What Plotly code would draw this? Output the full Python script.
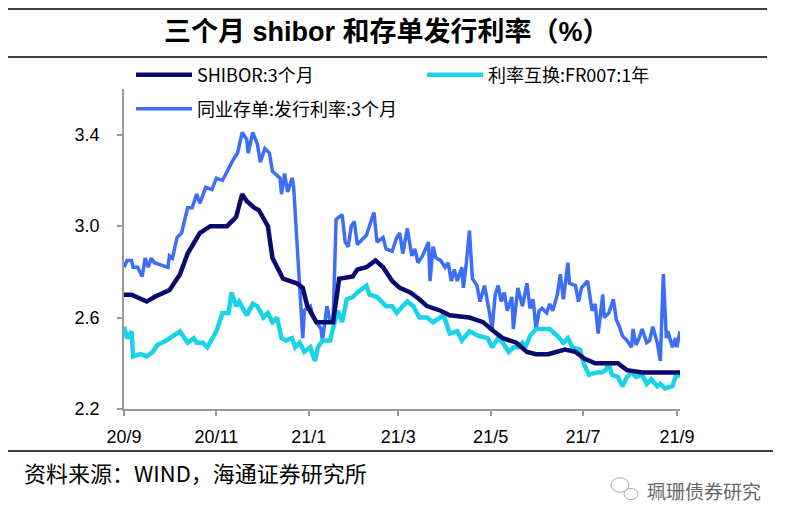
import plotly.graph_objects as go

# 3M SHIBOR
shibor_dates = ["2020-09-01", "2020-09-06", "2020-09-16", "2020-09-21", "2020-10-01", "2020-10-08",
                "2020-10-13", "2020-10-21", "2020-10-28", "2020-11-08", "2020-11-14", "2020-11-18",
                "2020-11-21", "2020-11-26", "2020-11-29", "2020-12-05", "2020-12-08", "2020-12-15",
                "2020-12-24", "2020-12-28", "2020-12-31", "2021-01-06", "2021-01-10", "2021-01-17",
                "2021-01-20", "2021-01-21", "2021-01-30", "2021-02-02", "2021-02-08", "2021-02-14",
                "2021-02-19", "2021-02-25", "2021-03-02", "2021-03-09", "2021-03-15", "2021-03-20",
                "2021-03-29", "2021-04-04", "2021-04-17", "2021-04-26", "2021-05-03", "2021-05-09",
                "2021-05-18", "2021-05-25", "2021-05-31", "2021-06-08", "2021-06-19", "2021-06-26",
                "2021-07-02", "2021-07-09", "2021-07-24", "2021-07-30", "2021-08-09", "2021-08-22",
                "2021-09-03"]
shibor = [2.70, 2.70, 2.67, 2.69, 2.72, 2.79, 2.88, 2.97, 3.00, 3.00, 3.04, 3.14,
          3.11, 3.08, 3.07, 3.00, 2.86, 2.77, 2.75, 2.73, 2.65, 2.58, 2.58, 2.58,
          2.72, 2.77, 2.78, 2.81, 2.82, 2.85, 2.82, 2.76, 2.73, 2.71, 2.68, 2.65,
          2.63, 2.61, 2.60, 2.58, 2.54, 2.51, 2.49, 2.45, 2.44, 2.44, 2.46, 2.45,
          2.42, 2.40, 2.40, 2.37, 2.36, 2.36, 2.36]

# FR007 1Y swap
fr_dates = ["2020-09-01", "2020-09-03", "2020-09-06", "2020-09-07", "2020-09-12", "2020-09-16",
            "2020-09-20", "2020-09-23", "2020-09-29", "2020-10-06", "2020-10-08", "2020-10-13",
            "2020-10-17", "2020-10-19", "2020-10-23", "2020-10-26", "2020-11-01", "2020-11-05",
            "2020-11-09", "2020-11-11", "2020-11-14", "2020-11-16", "2020-11-21", "2020-11-25",
            "2020-11-28", "2020-12-02", "2020-12-05", "2020-12-08", "2020-12-11", "2020-12-14",
            "2020-12-17", "2020-12-21", "2020-12-23", "2020-12-26", "2020-12-29", "2021-01-02",
            "2021-01-05", "2021-01-07", "2021-01-10", "2021-01-15", "2021-01-17", "2021-01-20",
            "2021-01-23", "2021-01-26", "2021-01-30", "2021-02-02", "2021-02-08", "2021-02-10",
            "2021-02-15", "2021-02-21", "2021-02-25", "2021-02-28", "2021-03-04", "2021-03-07",
            "2021-03-11", "2021-03-15", "2021-03-20", "2021-03-24", "2021-03-31", "2021-04-04",
            "2021-04-09", "2021-04-12", "2021-04-17", "2021-04-23", "2021-04-29", "2021-05-02",
            "2021-05-06", "2021-05-09", "2021-05-13", "2021-05-16", "2021-05-19", "2021-05-22",
            "2021-05-24", "2021-05-27", "2021-05-31", "2021-06-02", "2021-06-09", "2021-06-14",
            "2021-06-18", "2021-06-21", "2021-06-24", "2021-06-29", "2021-07-02", "2021-07-05",
            "2021-07-10", "2021-07-13", "2021-07-16", "2021-07-18", "2021-07-20", "2021-07-24",
            "2021-07-27", "2021-07-30", "2021-08-02", "2021-08-05", "2021-08-09", "2021-08-12",
            "2021-08-15", "2021-08-19", "2021-08-21", "2021-08-24", "2021-08-29", "2021-08-31",
            "2021-09-03"]
fr007 = [2.56, 2.51, 2.54, 2.43, 2.44, 2.43, 2.45, 2.48, 2.50, 2.53, 2.54, 2.49,
         2.51, 2.49, 2.49, 2.47, 2.54, 2.62, 2.62, 2.71, 2.65, 2.67, 2.61, 2.66,
         2.65, 2.60, 2.62, 2.58, 2.60, 2.51, 2.50, 2.51, 2.47, 2.49, 2.45, 2.47,
         2.41, 2.47, 2.50, 2.50, 2.55, 2.63, 2.58, 2.68, 2.69, 2.71, 2.74, 2.70,
         2.69, 2.65, 2.65, 2.62, 2.65, 2.67, 2.65, 2.60, 2.60, 2.58, 2.61, 2.53,
         2.54, 2.50, 2.54, 2.52, 2.51, 2.47, 2.51, 2.49, 2.45, 2.47, 2.47, 2.49,
         2.47, 2.52, 2.55, 2.55, 2.55, 2.52, 2.49, 2.51, 2.47, 2.46, 2.39, 2.35,
         2.36, 2.36, 2.37, 2.40, 2.35, 2.34, 2.30, 2.34, 2.36, 2.34, 2.35, 2.31,
         2.33, 2.30, 2.31, 2.29, 2.30, 2.34, 2.35]

# 3M NCD issuance rate
ncd_dates = ["2020-09-01", "2020-09-03", "2020-09-06", "2020-09-07", "2020-09-10", "2020-09-13",
             "2020-09-15", "2020-09-17", "2020-09-19", "2020-09-21", "2020-09-30", "2020-10-01",
             "2020-10-03", "2020-10-06", "2020-10-09", "2020-10-13", "2020-10-16", "2020-10-19",
             "2020-10-21", "2020-10-25", "2020-10-29", "2020-11-01", "2020-11-05", "2020-11-12",
             "2020-11-15", "2020-11-18", "2020-11-21", "2020-11-22", "2020-11-25", "2020-11-28",
             "2020-11-30", "2020-12-03", "2020-12-06", "2020-12-08", "2020-12-13", "2020-12-14",
             "2020-12-16", "2020-12-18", "2020-12-21", "2020-12-22", "2020-12-28", "2020-12-29",
             "2021-01-02", "2021-01-04", "2021-01-09", "2021-01-10", "2021-01-13", "2021-01-15",
             "2021-01-17", "2021-01-19", "2021-01-23", "2021-01-25", "2021-01-27", "2021-01-29",
             "2021-01-31", "2021-02-02", "2021-02-08", "2021-02-13", "2021-02-15", "2021-02-19",
             "2021-02-21", "2021-02-25", "2021-02-28", "2021-03-02", "2021-03-04", "2021-03-07",
             "2021-03-10", "2021-03-12", "2021-03-14", "2021-03-17", "2021-03-21", "2021-03-22",
             "2021-03-24", "2021-03-26", "2021-03-29", "2021-04-01", "2021-04-03", "2021-04-05",
             "2021-04-07", "2021-04-09", "2021-04-12", "2021-04-13", "2021-04-15", "2021-04-17",
             "2021-04-19", "2021-04-22", "2021-04-24", "2021-04-27", "2021-04-30", "2021-05-02",
             "2021-05-04", "2021-05-06", "2021-05-08", "2021-05-10", "2021-05-12", "2021-05-15",
             "2021-05-16", "2021-05-19", "2021-05-22", "2021-05-25", "2021-05-27", "2021-05-29",
             "2021-05-31", "2021-06-02", "2021-06-04", "2021-06-07", "2021-06-09", "2021-06-11",
             "2021-06-14", "2021-06-16", "2021-06-18", "2021-06-21", "2021-06-22", "2021-06-26",
             "2021-06-28", "2021-06-30", "2021-07-04", "2021-07-07", "2021-07-09", "2021-07-11",
             "2021-07-14", "2021-07-15", "2021-07-18", "2021-07-21", "2021-07-23", "2021-07-25",
             "2021-07-27", "2021-07-30", "2021-08-02", "2021-08-03", "2021-08-05", "2021-08-07",
             "2021-08-09", "2021-08-12", "2021-08-14", "2021-08-16", "2021-08-19", "2021-08-20",
             "2021-08-21", "2021-08-23", "2021-08-25", "2021-08-26", "2021-08-29", "2021-08-31",
             "2021-09-01", "2021-09-03"]
ncd = [2.82, 2.85, 2.85, 2.82, 2.82, 2.78, 2.86, 2.82, 2.86, 2.84, 2.82, 2.87,
       2.86, 2.95, 2.97, 3.08, 3.08, 3.14, 3.10, 3.17, 3.16, 3.21, 3.20, 3.29,
       3.32, 3.41, 3.38, 3.32, 3.41, 3.36, 3.28, 3.34, 3.32, 3.24, 3.21, 3.14,
       3.23, 3.15, 3.21, 3.17, 2.51, 2.63, 2.65, 2.60, 2.55, 2.50, 2.65, 2.58,
       2.58, 3.03, 3.05, 2.93, 2.91, 3.00, 3.02, 2.92, 2.96, 3.06, 2.93, 2.95,
       2.90, 2.89, 2.95, 2.97, 2.88, 2.99, 2.87, 2.90, 2.84, 2.87, 2.93, 2.76,
       2.91, 2.86, 2.85, 2.82, 2.84, 2.76, 2.81, 2.76, 2.82, 2.73, 2.84, 2.98,
       2.77, 2.74, 2.67, 2.74, 2.63, 2.55, 2.70, 2.74, 2.67, 2.71, 2.63, 2.69,
       2.55, 2.73, 2.65, 2.75, 2.64, 2.68, 2.55, 2.63, 2.64, 2.62, 2.66, 2.63,
       2.70, 2.79, 2.68, 2.84, 2.75, 2.74, 2.67, 2.73, 2.76, 2.63, 2.66, 2.53,
       2.70, 2.60, 2.62, 2.68, 2.59, 2.56, 2.52, 2.50, 2.47, 2.55, 2.48, 2.51,
       2.55, 2.49, 2.50, 2.56, 2.49, 2.45, 2.41, 2.79, 2.51, 2.54, 2.47, 2.51,
       2.47, 2.54]

tick_vals = ["2020-09-01", "2020-11-01", "2021-01-01", "2021-03-01", "2021-05-01", "2021-07-01", "2021-09-01"]
tick_text = ["20/9", "20/11", "21/1", "21/3", "21/5", "21/7", "21/9"]

FONT = "Arial, Liberation Sans, Noto Sans CJK SC, sans-serif"
CJK = "SimHei, Noto Sans CJK SC, sans-serif"

# plot area in page pixels (page body has an 8px margin)
PL, PT, PW, PH = 124, 89, 556, 320


def px(x):
    return (x - PL) / PW


def py(y):
    return (PT + PH - y) / PH


fig = go.Figure()
fig.add_trace(go.Scatter(x=ncd_dates, y=ncd, mode="lines", name="同业存单:发行利率:3个月",
                         line=dict(color="#3c6ef8", width=3.5), legend="legend3"))
fig.add_trace(go.Scatter(x=fr_dates, y=fr007, mode="lines", name="利率互换:FR007:1年",
                         line=dict(color="#19d4e8", width=4.5), legend="legend2"))
fig.add_trace(go.Scatter(x=shibor_dates, y=shibor, mode="lines", name="SHIBOR:3个月",
                         line=dict(color="#0a0a6e", width=4.5), legend="legend"))

leg = dict(orientation="h", yanchor="middle", xanchor="left", bgcolor="rgba(0,0,0,0)",
           itemwidth=56, font=dict(family=CJK, size=18, color="#000"))

axis = dict(showgrid=False, zeroline=False, showline=True, linecolor="#999", linewidth=1.5,
            ticks="outside", ticklen=5, tickcolor="#999", tickwidth=1.5,
            tickfont=dict(family=FONT, size=18, color="#000"))

fig.update_layout(
    width=787, height=523,
    margin=dict(l=PL - 8, r=787 - (PL - 8) - PW, t=PT - 8, b=523 - (PT - 8) - PH),
    plot_bgcolor="white", paper_bgcolor="white",
    showlegend=True,
    legend=dict(leg, x=px(131), y=py(75)),
    legend2=dict(leg, x=px(422), y=py(75)),
    legend3=dict(leg, x=px(131), y=py(109)),
    xaxis=dict(axis, type="date", range=["2020-09-01", "2021-09-03"], tickvals=tick_vals,
               ticktext=tick_text, ticklabelstandoff=6),
    yaxis=dict(axis, range=[2.2, 3.6], tickvals=[2.2, 2.6, 3.0, 3.4], tickformat=".1f",
               ticklabelstandoff=14),
)

# frame lines above/below the title and above the source note
for y, x0, x1 in [(9, 7, 767), (57, 5, 767), (451, 7, 773)]:
    fig.add_shape(type="line", xref="paper", yref="paper",
                  x0=px(x0), x1=px(x1), y0=py(y), y1=py(y),
                  line=dict(color="#000", width=1.5))

fig.add_annotation(text="<b>三个月 shibor 和存单发行利率（%）</b>", xref="paper", yref="paper",
                   x=px(387), y=py(32), xanchor="center", yanchor="middle", showarrow=False,
                   font=dict(family=FONT, size=27, color="#000"))
fig.add_annotation(text="资料来源：WIND，海通证券研究所", xref="paper", yref="paper",
                   x=px(22), y=py(472), xanchor="left", yanchor="middle", showarrow=False,
                   font=dict(family=CJK, size=22, color="#000"))
fig.add_annotation(text="珮珊债券研究", xref="paper", yref="paper",
                   x=px(763), y=py(490), xanchor="right", yanchor="middle", showarrow=False,
                   font=dict(family=CJK, size=19, color="#666"))

# small chat-bubble logo next to the watermark
for cx, cy, r in [(620, 485, 9), (631, 494, 7)]:
    fig.add_shape(type="circle", xref="paper", yref="paper",
                  x0=px(cx - r), x1=px(cx + r), y0=py(cy + r * 0.8), y1=py(cy - r * 0.8),
                  line=dict(color="#aaa", width=1), fillcolor="white")

fig.write_html("out.html")
